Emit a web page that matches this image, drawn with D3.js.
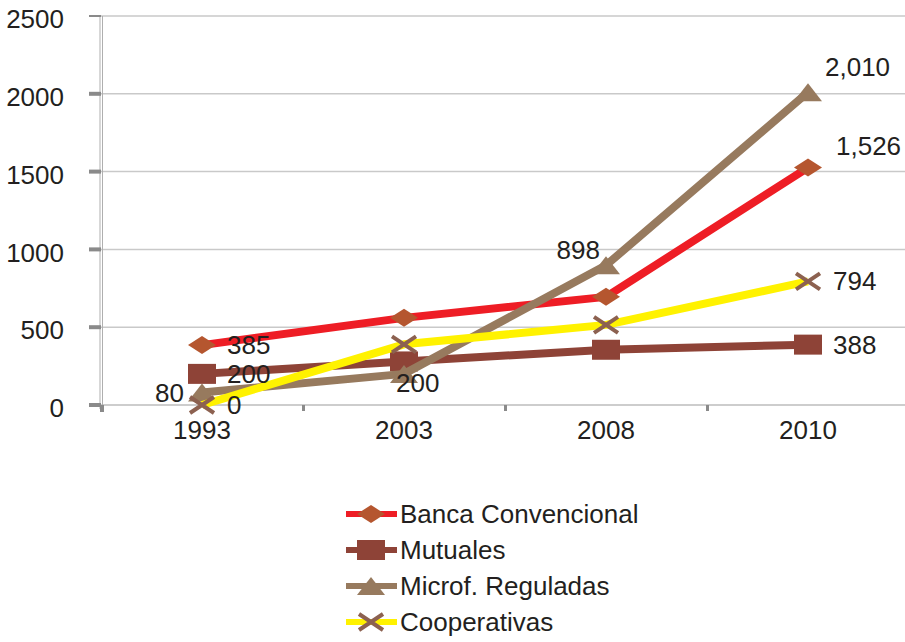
<!DOCTYPE html>
<html>
<head>
<meta charset="utf-8">
<script src="https://cdn.jsdelivr.net/npm/d3@7"></script>
<style>
  body { margin: 0; background: #fff; }
  text { font-family: "Liberation Sans", Arial, sans-serif; fill: #231F20; }
</style>
</head>
<body>
<div id="chart"></div>
<script>
(function () {

  // data
  const years = ["1993", "2003", "2008", "2010"]
  const seriesNames = ["Banca Convencional", "Mutuales", "Microf. Reguladas", "Cooperativas"]
  const banca = [385, 560, 695, 1526]
  const mutuales = [200, 280, 355, 388]
  const microf = [80, 200, 898, 2010]
  const cooperativas = [0, 390, 515, 794]
  const yTicks = [0, 500, 1000, 1500, 2000, 2500]

  // which points carry a label, and where it sits
  const labels = [
    { s: 0, i: 0, pos: "right" }, { s: 1, i: 0, pos: "right" },
    { s: 2, i: 0, pos: "left" }, { s: 3, i: 0, pos: "right" },
    { s: 2, i: 1, pos: "below" }, { s: 2, i: 2, pos: "aboveleft" },
    { s: 2, i: 3, pos: "aboveright" }, { s: 0, i: 3, pos: "aboveright" },
    { s: 3, i: 3, pos: "right" }, { s: 1, i: 3, pos: "right" }
  ]

  const lineColors = ["#EE1D25", "#8E4337", "#977A5E", "#FFF200"]
  const markerColors = ["#B5562F", "#8E4337", "#977A5E", "#8C6150"]
  const markerShapes = ["diamond", "square", "triangle", "cross"]

  const data = [banca, mutuales, microf, cooperativas].map((vals, s) => ({
    name: seriesNames[s],
    values: vals.map((v, i) => ({ year: years[i], value: v }))
  }))

  const W = 905, H = 642
  const fontSize = "26px"
  const svg = d3.select("#chart").append("svg")
    .attr("width", W)
    .attr("height", H)

  const x = d3.scaleBand()
    .domain(years)
    .range([101, 909])

  const y = d3.scaleLinear()
    .domain([0, 2500])
    .range([405, 16])

  // gridlines
  svg.append("g").selectAll("line")
    .data(yTicks.filter(d => d > 0))
    .enter().append("line")
    .attr("x1", 101).attr("x2", W)
    .attr("y1", d => y(d)).attr("y2", d => y(d))
    .attr("stroke", "#C9C9C9")
    .attr("stroke-width", 1.5)

  // x baseline
  svg.append("line")
    .attr("x1", 101).attr("x2", W)
    .attr("y1", y(0)).attr("y2", y(0))
    .attr("stroke", "#BDBDBD").attr("stroke-width", 1.5)

  // y axis (double line look)
  svg.append("line")
    .attr("x1", 100).attr("x2", 100).attr("y1", 16).attr("y2", 409)
    .attr("stroke", "#AFAFAF").attr("stroke-width", 1)
  svg.append("line")
    .attr("x1", 102.5).attr("x2", 102.5).attr("y1", 16).attr("y2", 409)
    .attr("stroke", "#AFAFAF").attr("stroke-width", 1)

  // y ticks + labels
  const yAxis = svg.append("g")
  yAxis.selectAll("rect")
    .data(yTicks)
    .enter().append("rect")
    .attr("x", 89).attr("width", 12)
    .attr("y", d => y(d) - (d === 2500 ? 1 : 2))
    .attr("height", d => d === 2500 ? 2 : 4)
    .attr("fill", "#8A8A8A")
  yAxis.selectAll("text")
    .data(yTicks)
    .enter().append("text")
    .attr("x", 64)
    .attr("y", d => y(d) + 3)
    .attr("dy", "0.35em")
    .attr("text-anchor", "end")
    .style("font-size", fontSize)
    .text(d => d)

  // x ticks at band edges
  const edges = years.map(d => x(d))
  svg.append("g").selectAll("rect")
    .data(edges)
    .enter().append("rect")
    .attr("x", d => d - 1)
    .attr("width", (d, i) => i === 0 ? 4 : 3)
    .attr("y", 405)
    .attr("height", (d, i) => i === 0 ? 7 : 6)
    .attr("fill", "#8A8A8A")

  svg.append("g").selectAll("text")
    .data(years)
    .enter().append("text")
    .attr("x", d => x(d) + x.bandwidth() / 2)
    .attr("y", 439)
    .attr("text-anchor", "middle")
    .style("font-size", fontSize)
    .text(d => d)

  function markerPath(shape) {
    if (shape === "diamond") return "M-14,0L0,-9L14,0L0,9Z"
    if (shape === "square") return "M-14,-10L14,-10L14,10L-14,10Z"
    if (shape === "triangle") return "M0,-9L14,9L-14,9Z"
    return ""
  }

  function drawMarker(g, s, cx, cy) {
    const shape = markerShapes[s]
    if (shape === "cross") {
      g.append("path")
        .attr("transform", "translate(" + cx + "," + cy + ")")
        .attr("d", "M-12,-8L12,8M-12,8L12,-8")
        .attr("stroke", markerColors[s])
        .attr("stroke-width", 4)
        .attr("fill", "none")
    } else {
      g.append("path")
        .attr("transform", "translate(" + cx + "," + cy + ")")
        .attr("d", markerPath(shape))
        .attr("fill", markerColors[s])
    }
  }

  const line = d3.line()
    .x(d => x(d.year) + x.bandwidth() / 2)
    .y(d => y(d.value))

  data.forEach((series, s) => {
    const g = svg.append("g")
    g.append("path")
      .datum(series.values)
      .attr("d", line)
      .attr("fill", "none")
      .attr("stroke", lineColors[s])
      .attr("stroke-width", 8)
      .attr("stroke-linejoin", "round")
    series.values.forEach(d => {
      drawMarker(g, s, x(d.year) + x.bandwidth() / 2, y(d.value))
    })
  })

  // data labels
  const fmt = d3.format(",")
  const lg = svg.append("g")
  labels.forEach(l => {
    const d = data[l.s].values[l.i]
    const cx = x(d.year) + x.bandwidth() / 2
    const cy = y(d.value)
    let tx = cx + 25, ty = cy + 9, anchor = "start"
    if (l.pos === "left") { tx = cx - 18; anchor = "end" }
    if (l.pos === "below") { tx = cx - 8; ty = cy + 18 }
    if (l.pos === "aboveleft") { tx = cx - 6; ty = cy - 6; anchor = "end" }
    if (l.pos === "aboveright") { tx = cx + 17; ty = cy - 16 }
    if (l.s === 0 && l.i === 3) { tx = cx + 28; ty = cy - 13 }
    lg.append("text")
      .attr("x", tx).attr("y", ty)
      .attr("text-anchor", anchor)
      .style("font-size", fontSize)
      .text(fmt(d.value))
  })

  // legend
  const legend = svg.append("g")
  const legendY = [514, 550, 586, 622]
  seriesNames.forEach((name, s) => {
    const ly = legendY[s]
    legend.append("line")
      .attr("x1", 346).attr("x2", 397)
      .attr("y1", ly).attr("y2", ly)
      .attr("stroke", lineColors[s])
      .attr("stroke-width", 6)
    drawMarker(legend, s, 371, ly)
    legend.append("text")
      .attr("x", 400)
      .attr("y", ly + 9)
      .style("font-size", fontSize)
      .text(name)
  })

})();
</script>
</body>
</html>
